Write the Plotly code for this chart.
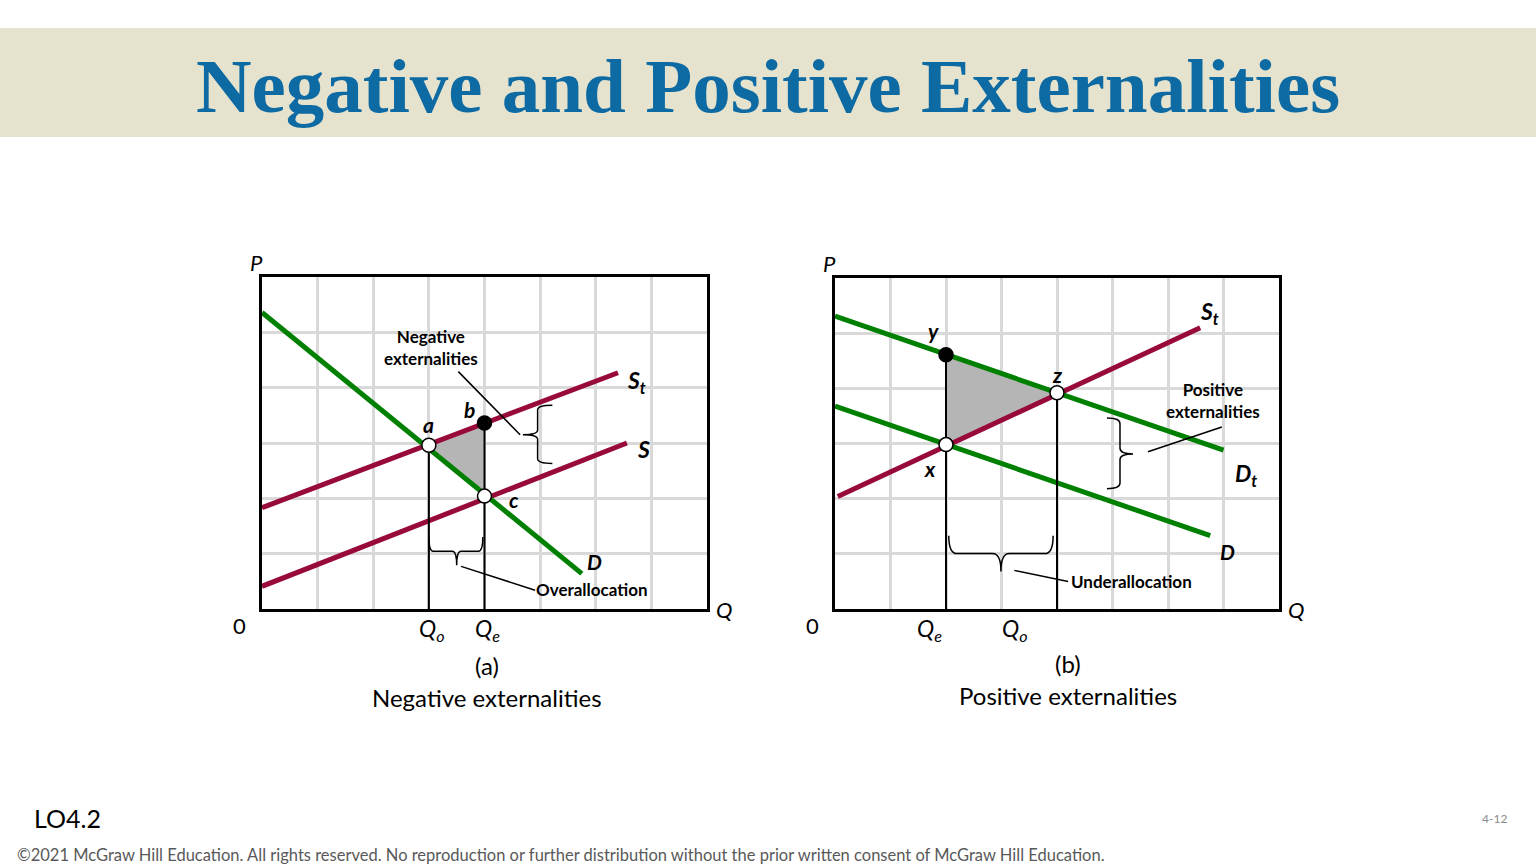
import plotly.graph_objects as go

W, H = 1536, 864

# ---- panel (a): negative externalities (grid units) ----
a_d_x = [0, 5.75]
a_d_y = [5.36, 0.64]
a_st_x = [0, 6.4]
a_st_y = [1.83, 4.27]
a_s_x = [0, 6.56]
a_s_y = [0.41, 3.0]
a_pt_names = ["a", "b", "c"]
a_pt_x = [3.0, 4.0, 4.0]
a_pt_y = [2.96, 3.36, 2.04]
a_q_labels = ["Q<sub>o</sub>", "Q<sub>e</sub>"]
a_q_x = [3.0, 4.0]

# ---- panel (b): positive externalities ----
b_dt_x = [0, 7.0]
b_dt_y = [5.31, 2.88]
b_d_x = [0, 6.76]
b_d_y = [3.68, 1.33]
b_st_x = [0.05, 6.58]
b_st_y = [2.04, 5.1]
b_pt_names = ["x", "y", "z"]
b_pt_x = [2.0, 2.0, 4.0]
b_pt_y = [2.98, 4.61, 3.92]
b_q_labels = ["Q<sub>e</sub>", "Q<sub>o</sub>"]
b_q_x = [2.0, 4.0]

GREEN = "#008000"
MAROON = "#990a3c"
FONT = "Lato"

# plot boxes in pixels: left, right, top, bottom
BOX_A = (262, 707, 277, 609)
BOX_B = (835, 1279, 278, 609)


def px_x(p):
    return p / W


def px_y(p):
    return 1 - p / H


def brace(x0, x1, y0, y1, tip, vertical=True, left=True):
    """SVG path of a curly brace in data units."""
    if vertical:
        xo, xt = (x1, x0) if left else (x0, x1)
        xm = (xo + xt) / 2
        k = (y0 - y1) * 0.08
        return (f"M{xo},{y0} Q{xm},{y0} {xm},{y0 - k} L{xm},{tip + k} "
                f"Q{xm},{tip} {xt},{tip} Q{xm},{tip} {xm},{tip - k} "
                f"L{xm},{y1 + k} Q{xm},{y1} {xo},{y1}")
    ym = (y0 + y1) / 2
    k = (x1 - x0) * 0.08
    return (f"M{x0},{y0} Q{x0},{ym} {x0 + k},{ym} L{tip - k},{ym} "
            f"Q{tip},{ym} {tip},{y1} Q{tip},{ym} {tip + k},{ym} "
            f"L{x1 - k},{ym} Q{x1},{ym} {x1},{y0}")


fig = go.Figure()

# title banner
fig.add_shape(type="rect", xref="paper", yref="paper", x0=0, x1=1,
              y0=px_y(137), y1=px_y(28), fillcolor="#e5e3cd", line_width=0, layer="below")


def panel(xa, ya, lines, pts, names, qx, tri_line, filled):
    tx = list(pts[0]) + [pts[0][0]]
    ty = list(pts[1]) + [pts[1][0]]
    fig.add_trace(go.Scatter(x=tx, y=ty, fill="toself", fillcolor="#b5b5b5", mode="lines",
                             line=dict(color="#555555" if tri_line else "rgba(0,0,0,0)", width=1),
                             xaxis=xa, yaxis=ya, hoverinfo="skip"))
    for lx, ly, col in lines:
        fig.add_trace(go.Scatter(x=lx, y=ly, mode="lines", line=dict(color=col, width=5),
                                 xaxis=xa, yaxis=ya, hoverinfo="skip"))
    for q in qx:
        top = max(y for x, y in zip(pts[0], pts[1]) if x == q)
        fig.add_trace(go.Scatter(x=[q, q], y=[0, top], mode="lines",
                                 line=dict(color="black", width=2),
                                 xaxis=xa, yaxis=ya, hoverinfo="skip"))
    fig.add_trace(go.Scatter(
        x=pts[0], y=pts[1], mode="markers",
        marker=dict(size=14, color=["black" if n == filled else "white" for n in names],
                    line=dict(color="black", width=1.5)),
        xaxis=xa, yaxis=ya, hoverinfo="skip"))


panel("x", "y",
      [(a_st_x, a_st_y, MAROON), (a_s_x, a_s_y, MAROON), (a_d_x, a_d_y, GREEN)],
      (a_pt_x, a_pt_y), a_pt_names, a_q_x, False, "b")
panel("x2", "y2",
      [(b_st_x, b_st_y, MAROON), (b_dt_x, b_dt_y, GREEN), (b_d_x, b_d_y, GREEN)],
      (b_pt_x, b_pt_y), b_pt_names, b_q_x, True, "y")

ax_common = dict(range=[0, 8], dtick=1, showgrid=True, gridcolor="#d9d9d9", gridwidth=3,
                 showline=True, linecolor="black", linewidth=3, mirror=True,
                 showticklabels=False, ticks="", zeroline=False, fixedrange=True)
ay_common = dict(ax_common, range=[0, 6])

fig.update_layout(
    width=W, height=H, margin=dict(l=0, r=0, t=0, b=0),
    paper_bgcolor="white", plot_bgcolor="white", showlegend=False,
    xaxis=dict(ax_common, domain=[px_x(BOX_A[0]), px_x(BOX_A[1])]),
    yaxis=dict(ay_common, domain=[px_y(BOX_A[3]), px_y(BOX_A[2])]),
    xaxis2=dict(ax_common, domain=[px_x(BOX_B[0]), px_x(BOX_B[1])], anchor="y2"),
    yaxis2=dict(ay_common, domain=[px_y(BOX_B[3]), px_y(BOX_B[2])], anchor="x2"),
)

# braces and leader lines
bl = dict(color="black", width=1.5)
fig.add_shape(type="path", xref="x", yref="y", line=bl,
              path=brace(4.69, 5.22, 3.68, 2.63, 3.15, vertical=True, left=True))
fig.add_shape(type="path", xref="x", yref="y", line=bl,
              path=brace(3.0, 3.97, 1.30, 0.79, 3.5, vertical=False))
fig.add_shape(type="line", xref="x", yref="y", x0=3.53, y0=4.29, x1=4.64, y1=3.15, line=bl)
fig.add_shape(type="line", xref="x", yref="y", x0=3.58, y0=0.77, x1=4.91, y1=0.34, line=bl)

fig.add_shape(type="path", xref="x2", yref="y2", line=bl,
              path=brace(4.90, 5.37, 3.46, 2.18, 2.81, vertical=True, left=False))
fig.add_shape(type="path", xref="x2", yref="y2", line=bl,
              path=brace(2.05, 3.93, 1.33, 0.68, 2.99, vertical=False))
fig.add_shape(type="line", xref="x2", yref="y2", x0=5.64, y0=2.85, x1=6.97, y1=3.30, line=bl)
fig.add_shape(type="line", xref="x2", yref="y2", x0=3.23, y0=0.70, x1=4.2, y1=0.50, line=bl)


def note(text, x, y, size, xref="paper", yref="paper", color="black", xanchor="center",
         family=FONT):
    fig.add_annotation(text=text, x=x, y=y, xref=xref, yref=yref, showarrow=False,
                       xanchor=xanchor, yanchor="middle",
                       font=dict(family=family, size=size, color=color))


def outside(box, gx, gy):
    """grid units (may lie outside the box) -> paper coords"""
    l, r, t, b = box
    return (px_x(l + gx * (r - l) / 8), px_y(b - gy * (b - t) / 6))


def axis_labels(box, qx, qlabels, qshift):
    note("<i>P</i>", *outside(box, -0.1, 6.27), 22)
    note("<i>Q</i>", *outside(box, 8.3, 0.0), 22)
    note("0", *outside(box, -0.4, -0.3), 22)
    for q, lab, dx in zip(qx, qlabels, qshift):
        note(f"<i>{lab}</i>", *outside(box, q + dx, -0.37), 23)


# panel (a) labels
note("<b><i>a</i></b>", 3.0, 3.33, 21, "x", "y")
note("<b><i>b</i></b>", 3.73, 3.6, 21, "x", "y")
note("<b><i>c</i></b>", 4.53, 1.97, 21, "x", "y")
note("<b><i>S<sub>t</sub></i></b>", 6.73, 4.12, 23, "x", "y")
note("<b><i>S</i></b>", 6.85, 2.9, 23, "x", "y")
note("<b><i>D</i></b>", 5.97, 0.86, 21, "x", "y")
note("<b>Negative<br>externalities</b>", 3.04, 4.72, 17, "x", "y")
note("<b>Overallocation</b>", 5.94, 0.36, 17, "x", "y")
axis_labels(BOX_A, a_q_x, a_q_labels, [0.05, 0.05])

# panel (b) labels
note("<b><i>y</i></b>", 1.77, 5.05, 21, "x2", "y2")
note("<b><i>z</i></b>", 4.0, 4.25, 21, "x2", "y2")
note("<b><i>x</i></b>", 1.72, 2.54, 21, "x2", "y2")
note("<b><i>S<sub>t</sub></i></b>", 6.75, 5.37, 23, "x2", "y2")
note("<b><i>D<sub>t</sub></i></b>", 7.4, 2.44, 23, "x2", "y2")
note("<b><i>D</i></b>", 7.07, 1.05, 21, "x2", "y2")
note("<b>Positive<br>externalities</b>", 6.81, 3.78, 17, "x2", "y2")
note("<b>Underallocation</b>", 5.35, 0.50, 17, "x2", "y2")
axis_labels(BOX_B, b_q_x, b_q_labels, [-0.3, -0.75])

# captions
note("(a)", px_x(487), px_y(665), 24)
note("Negative externalities", px_x(487), px_y(697), 24)
note("(b)", px_x(1068), px_y(663), 24)
note("Positive externalities", px_x(1068), px_y(695), 24)

# title and footer
note("<b>Negative and Positive Externalities</b>", 0.5, px_y(86), 77,
     color="#0e6aa3", family="Liberation Serif")
note("LO4.2", px_x(32), px_y(818), 25, xanchor="left")
note("4-12", px_x(1509), px_y(818), 12, color="#8c8c8c", xanchor="right")
note("©2021 McGraw Hill Education. All rights reserved. No reproduction or further distribution "
     "without the prior written consent of McGraw Hill Education.",
     px_x(15), px_y(855), 16.5, color="#595959", xanchor="left")

fig.write_html("out.html", config={"displayModeBar": False},
               post_script="document.body.style.margin='0';")
